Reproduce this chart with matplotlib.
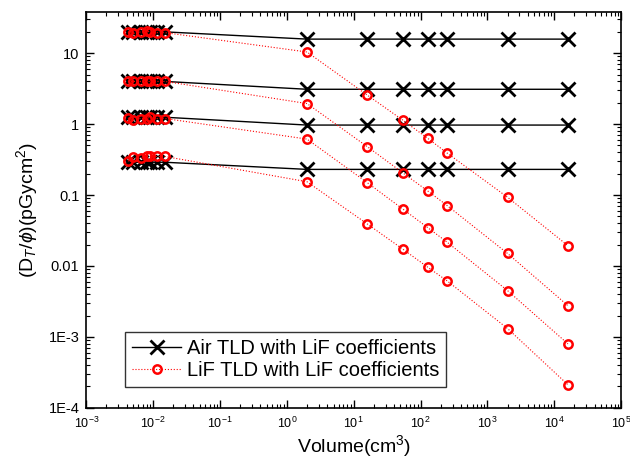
import numpy as np
import matplotlib.pyplot as plt
from matplotlib.ticker import LogLocator, FixedLocator, FixedFormatter, NullFormatter

plt.rcParams['font.family'] = ['Liberation Sans', 'DejaVu Sans']
plt.rcParams['mathtext.fontset'] = 'custom'
plt.rcParams['mathtext.rm'] = 'Liberation Sans'
plt.rcParams['mathtext.it'] = 'Liberation Sans:italic'

# volumes (cm3)
vol_small = [0.0042, 0.0050, 0.0065, 0.0080, 0.0090, 0.0115, 0.0150]
vol_large = [2, 16, 54, 128, 250, 2000, 16000]
volume = vol_small + vol_large

# Air TLD with LiF coefficients (4 curves)
air = [
    [20, 20, 20, 20, 20, 20, 20, 15.8, 15.8, 15.8, 15.8, 15.8, 15.8, 15.8],
    [4.0, 4.0, 4.0, 4.0, 4.0, 4.0, 4.0, 3.1, 3.1, 3.1, 3.1, 3.1, 3.1, 3.1],
    [1.25, 1.25, 1.25, 1.25, 1.25, 1.25, 1.25, 0.97, 0.97, 0.97, 0.97, 0.97, 0.97, 0.97],
    [0.29, 0.29, 0.29, 0.29, 0.29, 0.29, 0.29, 0.23, 0.23, 0.23, 0.23, 0.23, 0.23, 0.23],
]

# LiF TLD with LiF coefficients (4 curves)
lif = [
    [20, 19, 20, 20.5, 20, 19.5, 19.5, 10.4, 2.56, 1.14, 0.63, 0.39, 0.093, 0.0193],
    [4.0, 4.0, 4.0, 4.0, 4.0, 4.0, 4.0, 1.95, 0.48, 0.206, 0.114, 0.071, 0.015, 0.00275],
    [1.22, 1.15, 1.2, 1.2, 1.25, 1.2, 1.2, 0.615, 0.149, 0.0636, 0.0347, 0.0216, 0.00449, 0.000796],
    [0.30, 0.34, 0.33, 0.35, 0.35, 0.35, 0.35, 0.154, 0.039, 0.0173, 0.0096, 0.00615, 0.00131, 0.000211],
]

ytick_vals = [1e-4, 1e-3, 1e-2, 1e-1, 1, 10]
ytick_labels = ['1E-4', '1E-3', '0.01', '0.1', '1', '10']

fig = plt.figure(figsize=(6.3, 4.65), dpi=100)
ax = fig.add_axes([0.137, 0.123, 0.849, 0.851])

for i in range(4):
    ax.plot(volume, air[i], color='k', lw=1.0, marker='x', ms=10, mew=2.0,
            label='Air TLD with LiF coefficients' if i == 0 else None, zorder=2)
for i in range(4):
    ax.plot(volume, lif[i], color='red', lw=0.8, ls=':', marker='o', ms=6,
            mfc='none', mec='red', mew=1.8,
            label='LiF TLD with LiF coefficients' if i == 0 else None, zorder=3)

ax.set_xscale('log')
ax.set_yscale('log')
ax.set_xlim(1e-3, 1e5)
ax.set_ylim(1e-4, 38)

ax.xaxis.set_major_locator(LogLocator(base=10, numticks=20))
ax.xaxis.set_minor_locator(LogLocator(base=10, subs=np.arange(2, 10), numticks=20))
ax.xaxis.set_minor_formatter(NullFormatter())
ax.yaxis.set_major_locator(FixedLocator(ytick_vals))
ax.yaxis.set_major_formatter(FixedFormatter(ytick_labels))
ax.yaxis.set_minor_locator(LogLocator(base=10, subs=np.arange(2, 10), numticks=20))
ax.yaxis.set_minor_formatter(NullFormatter())

ax.tick_params(which='both', direction='in', top=True, right=True)
ax.tick_params(axis='y', labelsize=10.5, pad=5)
ax.tick_params(axis='x', labelsize=9, pad=6)
ax.tick_params(which='major', length=6, width=1)
ax.tick_params(which='minor', length=3, width=0.8)
for s in ax.spines.values():
    s.set_linewidth(1.2)

ax.set_xlabel('Volume(cm$^3$)', fontsize=14, labelpad=1)
ax.set_ylabel(r'(D$_T$/$\phi$)(pGycm$^2$)', fontsize=14, labelpad=6)

leg = ax.legend(loc='lower left', bbox_to_anchor=(0.073, 0.053), fontsize=14.5,
                frameon=True, fancybox=False, edgecolor='k', handlelength=2.4,
                handletextpad=0.3, borderaxespad=0, borderpad=0.35,
                labelspacing=0.12)
leg.get_frame().set_linewidth(1.0)

fig.savefig('out.png', dpi=100)
